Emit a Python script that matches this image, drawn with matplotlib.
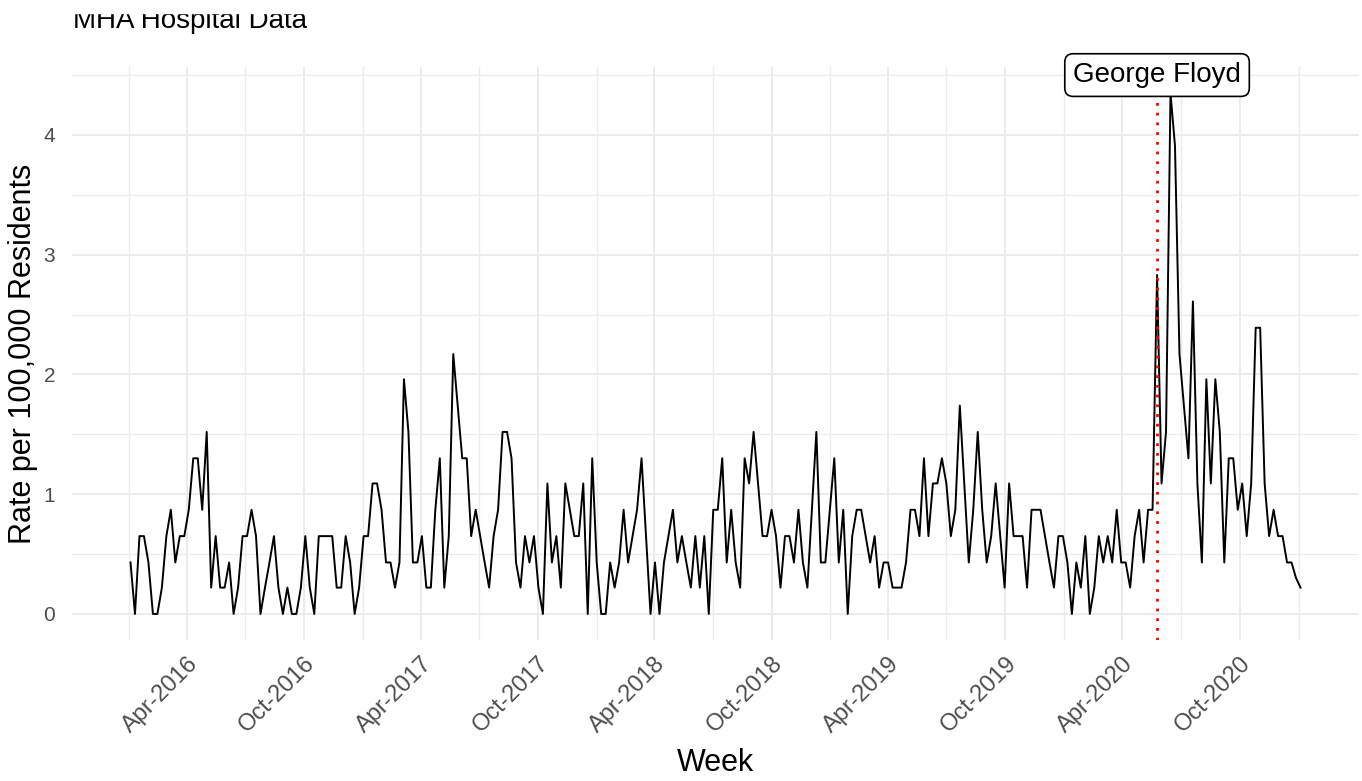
import numpy as np
import pandas as pd
import matplotlib
matplotlib.use('Agg')
import matplotlib.pyplot as plt
import matplotlib.dates as mdates
from matplotlib.patches import Rectangle

plt.rcParams['font.family'] = ['Liberation Sans', 'DejaVu Sans']

# weekly rate per 100,000 residents, first week starting 2016-01-04
week_start = '2016-01-04'
rate = [
    0.43, 0.00, 0.65, 0.65, 0.43, 0.00, 0.00, 0.22, 0.65, 0.87,
    0.43, 0.65, 0.65, 0.87, 1.30, 1.30, 0.87, 1.52, 0.22, 0.65,
    0.22, 0.22, 0.43, 0.00, 0.22, 0.65, 0.65, 0.87, 0.65, 0.00,
    0.22, 0.43, 0.65, 0.22, 0.00, 0.22, 0.00, 0.00, 0.22, 0.65,
    0.22, 0.00, 0.65, 0.65, 0.65, 0.65, 0.22, 0.22, 0.65, 0.43,
    0.00, 0.22, 0.65, 0.65, 1.09, 1.09, 0.87, 0.43, 0.43, 0.22,
    0.43, 1.96, 1.52, 0.43, 0.43, 0.65, 0.22, 0.22, 0.87, 1.30,
    0.22, 0.65, 2.17, 1.74, 1.30, 1.30, 0.65, 0.87, 0.65, 0.43,
    0.22, 0.65, 0.87, 1.52, 1.52, 1.30, 0.43, 0.22, 0.65, 0.43,
    0.65, 0.22, 0.00, 1.09, 0.43, 0.65, 0.22, 1.09, 0.87, 0.65,
    0.65, 1.09, 0.00, 1.30, 0.43, 0.00, 0.00, 0.43, 0.22, 0.43,
    0.87, 0.43, 0.65, 0.87, 1.30, 0.65, 0.00, 0.43, 0.00, 0.43,
    0.65, 0.87, 0.43, 0.65, 0.43, 0.22, 0.65, 0.22, 0.65, 0.00,
    0.87, 0.87, 1.30, 0.43, 0.87, 0.43, 0.22, 1.30, 1.09, 1.52,
    1.09, 0.65, 0.65, 0.87, 0.65, 0.22, 0.65, 0.65, 0.43, 0.87,
    0.43, 0.22, 0.87, 1.52, 0.43, 0.43, 0.87, 1.30, 0.43, 0.87,
    0.00, 0.65, 0.87, 0.87, 0.65, 0.43, 0.65, 0.22, 0.43, 0.43,
    0.22, 0.22, 0.22, 0.43, 0.87, 0.87, 0.65, 1.30, 0.65, 1.09,
    1.09, 1.30, 1.09, 0.65, 0.87, 1.74, 1.09, 0.43, 0.87, 1.52,
    0.87, 0.43, 0.65, 1.09, 0.65, 0.22, 1.09, 0.65, 0.65, 0.65,
    0.22, 0.87, 0.87, 0.87, 0.65, 0.43, 0.22, 0.65, 0.65, 0.43,
    0.00, 0.43, 0.22, 0.65, 0.00, 0.22, 0.65, 0.43, 0.65, 0.43,
    0.87, 0.43, 0.43, 0.22, 0.65, 0.87, 0.43, 0.87, 0.87, 2.83,
    1.09, 1.52, 4.35, 3.91, 2.17, 1.74, 1.30, 2.61, 1.09, 0.43,
    1.96, 1.09, 1.96, 1.52, 0.43, 1.30, 1.30, 0.87, 1.09, 0.65,
    1.09, 2.39, 2.39, 1.09, 0.65, 0.87, 0.65, 0.65, 0.43, 0.43,
    0.30, 0.22,
]
event_date = '2020-05-25'
event_label = 'George Floyd'
title = 'MHA Hospital Data'
x_title = 'Week'
y_title = 'Rate per 100,000 Residents'
y_ticks = [0, 1, 2, 3, 4]
x_ticks = pd.date_range('2016-04-01', '2020-10-01', freq='6MS')
x_minor = pd.date_range('2016-01-01', '2021-01-01', freq='6MS')

weeks = pd.date_range(week_start, periods=len(rate), freq='7D')
grid_col = '#EBEBEB'
txt_col = '#4D4D4D'

W, H = 1362, 781
fig = plt.figure(figsize=(W / 100, H / 100), dpi=100)
ax = fig.add_axes([72 / W, 1 - 640 / H, (1359 - 72) / W, (640 - 67) / H])

ax.plot(weeks, rate, color='black', lw=1.4, zorder=3)
ax.axvline(pd.Timestamp(event_date), color='red', lw=2.0,
           linestyle=(0, (1, 2.5)), zorder=4)
ax.text(pd.Timestamp(event_date), 4.5, event_label, ha='center', va='center',
        fontsize=20, zorder=5,
        bbox=dict(boxstyle='round,pad=0.3', fc='white', ec='black', lw=1.2))

# ggplot-like 5% expansion
span = weeks[-1] - weeks[0]
ax.set_xlim(weeks[0] - span * 0.05, weeks[-1] + span * 0.05)
ymax = max(rate)
ax.set_ylim(-0.05 * ymax, ymax * 1.05)

ax.set_xticks(mdates.date2num(x_ticks))
ax.set_xticklabels([d.strftime('%b-%Y') for d in x_ticks], rotation=45,
                   ha='right', rotation_mode='anchor')
ax.set_xticks(mdates.date2num(x_minor), minor=True)
ax.set_yticks(y_ticks)
ax.set_yticks(np.arange(0.5, 5, 1), minor=True)

ax.grid(True, which='major', color=grid_col, lw=1.4)
ax.grid(True, which='minor', color=grid_col, lw=1.0)
ax.set_axisbelow(True)
for s in ax.spines.values():
    s.set_visible(False)
ax.tick_params(which='both', length=0)
ax.tick_params(axis='x', labelsize=17, labelcolor=txt_col, pad=9)
ax.tick_params(axis='y', labelsize=15, labelcolor=txt_col, pad=12)

ax.set_xlabel(x_title, fontsize=22, labelpad=8)
ax.set_ylabel(y_title, fontsize=22, labelpad=4)

fig.text(73 / W, 1 - 28 / H, title, fontsize=20, ha='left', va='baseline')
# the reference image is cropped through the title
fig.patches.append(Rectangle((0, 1 - 13 / H), 1, 13 / H, color='white',
                             transform=fig.transFigure, zorder=10))

fig.savefig('out.png', dpi=100)
